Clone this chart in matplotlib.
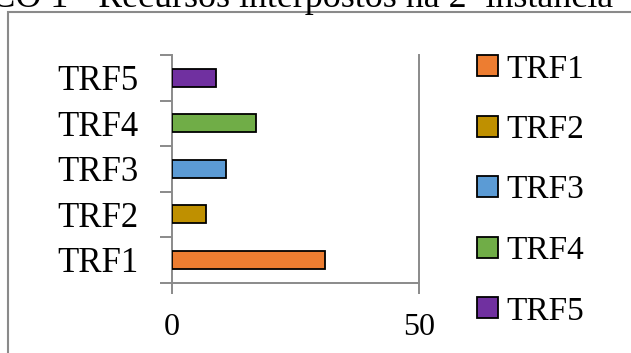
import matplotlib
matplotlib.use("Agg")
import matplotlib.pyplot as plt
from matplotlib.patches import Rectangle, Patch

categories = ["TRF1", "TRF2", "TRF3", "TRF4", "TRF5"]
values = [31, 7, 11, 17, 9]
colors = ["#ED7D31", "#BF9000", "#5B9BD5", "#70AD47", "#7030A0"]
x_ticks = [0, 50]
title = "GRÁFICO 1 - Recursos interpostos na 2ª instância"

plt.rcParams['font.family'] = ['Liberation Serif', 'DejaVu Serif']
W, H = 631, 353
fig = plt.figure(figsize=(W / 100, H / 100), dpi=100)
fig.patch.set_facecolor("white")

def fx(px):
    return px / W

def fy(py):
    return 1 - py / H

grey = "#8a8a8a"

# chart border (extends past the image right/bottom)
fig.patches.append(Rectangle((fx(8), fy(400)), fx(700), (400 - 12) / H,
                             transform=fig.transFigure, fill=False,
                             edgecolor=grey, linewidth=1.5))

fig.text(fx(613), fy(7), title, ha="right", va="baseline", fontsize=25.8,
         color="black")

left, right, top, bottom = 171.7, 419.3, 55, 282.7
ax = fig.add_axes([fx(left), fy(bottom), fx(right - left), (bottom - top) / H])
ypos = list(range(len(categories)))
for y, v, c in zip(ypos, values, colors):
    ax.barh(y, v, height=0.4, color=c, edgecolor="black", linewidth=1.3, zorder=3)

ax.set_xlim(x_ticks[0], x_ticks[-1])
ax.set_ylim(-0.5, len(categories) - 0.5)
for s in ["left", "bottom", "right"]:
    ax.spines[s].set_color(grey)
    ax.spines[s].set_linewidth(1.4)
ax.spines["top"].set_visible(False)

ax.set_xticks(x_ticks)
ax.set_xticklabels([str(t) for t in x_ticks])
ax.tick_params(axis="x", direction="out", length=8.2, width=1.4, color=grey,
               labelsize=23, pad=13.5)
ax.set_yticks([i - 0.5 for i in range(len(categories) + 1)])
ax.set_yticklabels([])
ax.set_yticks(ypos, minor=True)
ax.set_yticklabels(categories, minor=True)
ax.tick_params(axis="y", which="major", direction="out", length=8.4, width=1.4,
               color=grey)
ax.tick_params(axis="y", which="minor", length=0, labelsize=25, pad=24)
ax.tick_params(axis="x", which="minor", length=0)
ax.set_xticks([], minor=True)

handles = [Patch(facecolor=c, edgecolor="black", linewidth=1.3) for c in colors]
fig.legend(handles, categories, loc="upper left",
           bbox_to_anchor=(fx(477), fy(54)), frameon=False, fontsize=24,
           handlelength=0.64, handleheight=0.58, handletextpad=0.25,
           labelspacing=0.9, borderpad=0, borderaxespad=0)

fig.savefig("out.png", dpi=100)
